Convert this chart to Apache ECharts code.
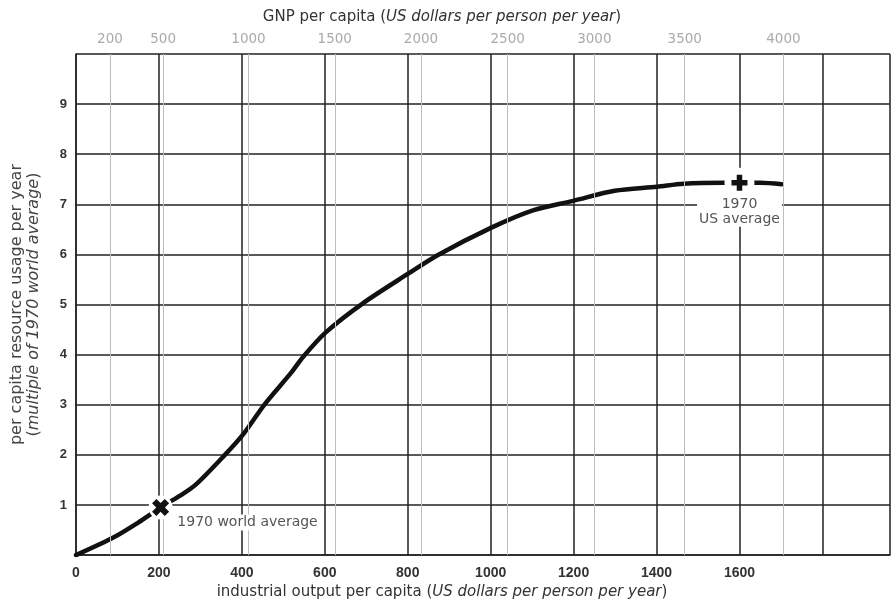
<!DOCTYPE html>
<html>
<head>
<meta charset="utf-8">
<script src="https://cdn.jsdelivr.net/npm/echarts@6/dist/echarts.min.js"></script>
<style>
html,body{margin:0;padding:0;background:#fff;}
#chart{width:893px;height:605px;}
</style>
</head>
<body>
<div id="chart"></div>
<script>
// industrial output per capita (US$ per person per year)
const outputVals = [0, 90, 150, 204, 250, 288, 359, 405, 454, 517, 549, 603, 691, 802, 873, 1003, 1102, 1199, 1299, 1401, 1465, 1560, 1600, 1650, 1702];
// per capita resource usage (multiple of 1970 world average)
const usageVals = [0, 0.35, 0.65, 0.95, 1.18, 1.40, 2.0, 2.43, 3.0, 3.62, 3.97, 4.45, 5.02, 5.62, 5.99, 6.54, 6.88, 7.07, 7.27, 7.35, 7.41, 7.43, 7.43, 7.43, 7.40];
// bottom axis tick labels
const outputTicks = [0, 200, 400, 600, 800, 1000, 1200, 1400, 1600];
const usageTicks = [1, 2, 3, 4, 5, 6, 7, 8, 9];
// GNP per capita scale (top) and its position on the industrial output scale
const gnpLabels = ['200', '500', '1000', '1500', '2000', '2500', '3000', '3500', '4000'];
const gnpPos = [82, 210, 416, 624, 832, 1041, 1250, 1468, 1706];
// highlighted points
const worldAvg = [204, 0.95];
const usAvg = [1600, 7.43];

const FONT = '"DejaVu Sans", Verdana, sans-serif';
const BFONT = '"Liberation Sans", Arial, Helvetica, sans-serif';
const chart = echarts.init(document.getElementById('chart'));

const curve = outputVals.map((x, i) => [x, usageVals[i]]);

chart.setOption({
  backgroundColor: '#fff',
  animation: false,
  textStyle: {fontFamily: FONT},
  grid: {left: 71.5, top: 54, width: 829, height: 507},
  xAxis: [{
    type: 'value', min: 0, max: 1963, interval: 200, position: 'bottom',
    axisLine: {show: true, lineStyle: {color: '#222', width: 1.5}},
    axisTick: {show: false},
    splitLine: {show: true, lineStyle: {color: '#222', width: 1.5}},
    axisLabel: {
      margin: 11, color: '#333', fontSize: 14, fontWeight: 'bold', fontFamily: BFONT,
      formatter: v => outputTicks.indexOf(v) >= 0 ? String(v) : ''
    },
    name: '{n|industrial output per capita (}{i|US dollars per person per year}{n|)}',
    nameLocation: 'middle', nameGap: 29,
    nameTextStyle: {
      padding: [0, 82, 0, 0],
      rich: {
        n: {fontSize: 15, color: '#333', fontFamily: FONT},
        i: {fontSize: 15, color: '#333', fontStyle: 'italic', fontFamily: FONT}
      }
    }
  }, {
    type: 'value', min: 0, max: 1963, position: 'top',
    axisLine: {show: false}, axisTick: {show: false}, splitLine: {show: false},
    axisLabel: {
      customValues: gnpPos, margin: 8, color: '#aaa', fontSize: 13.5, fontFamily: FONT,
      formatter: v => { const k = gnpPos.indexOf(v); return k >= 0 ? gnpLabels[k] : ''; }
    },
    name: '{n|GNP per capita (}{i|US dollars per person per year}{n|)}',
    nameLocation: 'middle', nameGap: 29,
    nameTextStyle: {
      padding: [0, 82, 0, 0],
      rich: {
        n: {fontSize: 15, color: '#333', fontFamily: FONT},
        i: {fontSize: 15, color: '#333', fontStyle: 'italic', fontFamily: FONT}
      }
    }
  }],
  yAxis: {
    type: 'value', min: 0, max: 10, interval: 1,
    axisLine: {show: true, lineStyle: {color: '#222', width: 1.5}},
    axisTick: {show: false},
    splitLine: {show: true, lineStyle: {color: '#222', width: 1.5}},
    axisLabel: {
      margin: 9, color: '#333', fontSize: 13, fontWeight: 'bold', fontFamily: BFONT,
      formatter: v => usageTicks.indexOf(v) >= 0 ? String(v) : ''
    },
    name: '{n|per capita resource usage per year}\n{n|(}{i|multiple of 1970 world average}{n|)}',
    nameLocation: 'middle', nameRotate: 90, nameGap: 34,
    nameTextStyle: {
      lineHeight: 17,
      rich: {
        n: {fontSize: 16, color: '#444', fontFamily: FONT, lineHeight: 17},
        i: {fontSize: 16, color: '#444', fontStyle: 'italic', fontFamily: FONT, lineHeight: 17}
      }
    }
  },
  series: [{
    name: 'GNP grid',
    type: 'line', data: [], z: 1, silent: true,
    markLine: {
      silent: true, symbol: 'none', label: {show: false},
      lineStyle: {color: '#bdbdbd', width: 1, type: 'solid'},
      data: gnpPos.map(p => ({xAxis: p}))
    }
  }, {
    name: 'resource usage',
    type: 'line', data: curve, smooth: 0.3, showSymbol: false, z: 3,
    lineStyle: {color: '#111', width: 4.5, cap: 'round'}
  }, {
    name: 'halo',
    type: 'scatter', z: 8, silent: true,
    symbol: 'circle',
    data: [
      {value: worldAvg, symbolSize: 24},
      {value: usAvg, symbolSize: 30}
    ],
    itemStyle: {color: '#ffffff', opacity: 1}
  }, {
    name: 'markers',
    type: 'scatter', z: 9, silent: true,
    symbol: 'path://M-1.1,-3.2H1.1V-1.1H3.2V1.1H1.1V3.2H-1.1V1.1H-3.2V-1.1H-1.1Z',
    itemStyle: {color: '#111', opacity: 1},
    data: [{
      value: worldAvg, symbolSize: 18, symbolRotate: 45,
      label: {
        show: true, position: 'right', distance: 2, offset: [0, 15],
        formatter: '1970 world average',
        color: '#555', fontSize: 14, fontFamily: FONT,
        backgroundColor: '#fff', padding: [1, 2]
      }
    }, {
      value: usAvg, symbolSize: 16,
      label: {
        show: true, position: 'bottom', distance: 6,
        formatter: '1970\nUS average', align: 'center',
        color: '#555', fontSize: 14, lineHeight: 15, fontFamily: FONT,
        backgroundColor: '#fff', padding: [0, 2]
      }
    }]
  }]
});
</script>
</body>
</html>
